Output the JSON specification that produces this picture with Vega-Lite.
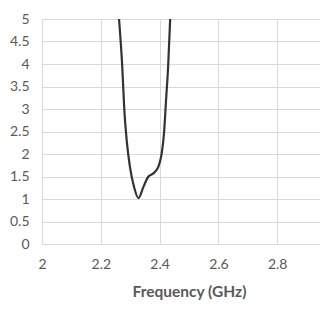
{
  "$schema": "https://vega.github.io/schema/vega-lite/v6.json",
  "width": 278,
  "height": 225,
  "autosize": "none",
  "padding": {"left": 42, "top": 19, "right": 0, "bottom": 76},
  "background": "white",
  "config": {
    "view": {"stroke": null},
    "font": "Lato",
    "axis": {"labelFont": "Lato", "titleFont": "Lato", "labelColor": "#595959", "titleColor": "#595959", "gridColor": "#d9d9d9", "gridWidth": 1, "ticks": false, "domain": false}
  },
  "data": {"values": [
    {"f": 2.262, "v": 5.0},
    {"f": 2.273, "v": 3.94},
    {"f": 2.280, "v": 2.98},
    {"f": 2.288, "v": 2.31},
    {"f": 2.299, "v": 1.72},
    {"f": 2.313, "v": 1.27},
    {"f": 2.328, "v": 1.02},
    {"f": 2.345, "v": 1.27},
    {"f": 2.362, "v": 1.50},
    {"f": 2.379, "v": 1.57},
    {"f": 2.396, "v": 1.72},
    {"f": 2.407, "v": 2.01},
    {"f": 2.415, "v": 2.46},
    {"f": 2.422, "v": 3.2},
    {"f": 2.429, "v": 3.94},
    {"f": 2.436, "v": 5.0}
  ]},
  "mark": {"type": "line", "color": "#333333", "strokeWidth": 2.2, "interpolate": "monotone"},
  "encoding": {
    "x": {
      "field": "f", "type": "quantitative",
      "scale": {"domain": [2, 2.9456], "nice": false, "zero": false},
      "axis": {"values": [2, 2.2, 2.4, 2.6, 2.8], "format": "~g", "labelFlush": false, "labelFontSize": 14, "labelPadding": 13, "title": "Frequency (GHz)", "titleFontSize": 15.5, "titleFontWeight": "bold", "titlePadding": 13, "titleX": 147, "titleAnchor": "middle"}
    },
    "y": {
      "field": "v", "type": "quantitative",
      "scale": {"domain": [0, 5], "nice": false},
      "axis": {"values": [0, 0.5, 1, 1.5, 2, 2.5, 3, 3.5, 4, 4.5, 5], "format": "~g", "labelFlush": false, "labelFontSize": 14, "labelPadding": 13, "title": null}
    }
  }
}
